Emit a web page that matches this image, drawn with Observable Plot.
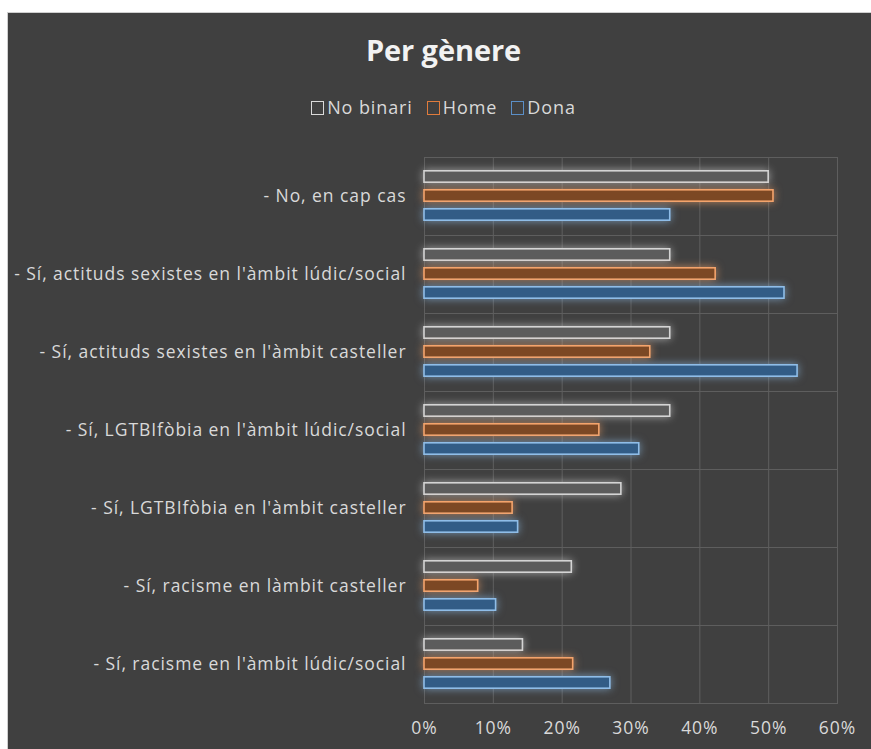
<!DOCTYPE html>
<html>
<head>
<meta charset="utf-8">
<script src="https://cdn.jsdelivr.net/npm/d3@7"></script>
<script src="https://cdn.jsdelivr.net/npm/@observablehq/plot@0.6"></script>
<style>
  html, body { margin: 0; padding: 0; background: #ffffff; }
  #card {
    position: absolute; left: 7px; top: 12px; width: 864px; height: 737px;
    background: #404040; border-left: 1px solid #cfcfcf; border-top: 1px solid #cfcfcf;
    box-sizing: border-box; font-family: "Open Sans", sans-serif; color: #d9d9d9;
  }
  #header { height: 128px; position: relative; }
  #title {
    position: absolute; top: 17px; width: 100%; text-align: center;
    font-size: 29px; font-weight: 700; color: #f2f2f2; letter-spacing: -0.1px; padding-left: 8px; box-sizing: border-box;
  }
  #legend {
    position: absolute; top: 82px; left: 0; width: 100%; text-align: center;
    font-size: 18px; color: #d9d9d9; letter-spacing: 0.9px; padding-left: 8px; box-sizing: border-box;
  }
  .item { display: inline-block; margin: 0 7px; }
  .sw { display: inline-block; width: 11px; height: 12px; border: 1px solid; margin-right: 3px; vertical-align: -1px; }
  #chart svg { display: block; }
</style>
</head>
<body>
<div id="card">
  <div id="header">
    <div id="title">Per gènere</div>
    <div id="legend"></div>
  </div>
  <div id="chart"></div>
</div>
<script>
const categories = [
  "- No, en cap cas",
  "- Sí, actituds sexistes en l'àmbit lúdic/social",
  "- Sí, actituds sexistes en l'àmbit casteller",
  "- Sí, LGTBIfòbia en l'àmbit lúdic/social",
  "- Sí, LGTBIfòbia en l'àmbit casteller",
  "- Sí, racisme en làmbit casteller",
  "- Sí, racisme en l'àmbit lúdic/social"
];
const series = ["No binari", "Home", "Dona"];
const noBinari = [50.0, 35.7, 35.7, 35.7, 28.6, 21.4, 14.3];
const home     = [50.7, 42.3, 32.8, 25.4, 12.8, 7.8, 21.6];
const dona     = [35.7, 52.3, 54.2, 31.2, 13.6, 10.4, 27.0];
const xTicks = [0, 0.1, 0.2, 0.3, 0.4, 0.5, 0.6];

const strokeColors = {"No binari": "#d4d4d4", "Home": "#f4a46c", "Dona": "#8fbde8"};
const fillColors   = {"No binari": "#5c5c5c", "Home": "#7c4824", "Dona": "#325c86"};
const legendBox    = {"No binari": "#d9d9d9", "Home": "#e07b3c", "Dona": "#5b8fc7"};

const valuesBySeries = {"No binari": noBinari, "Home": home, "Dona": dona};
const data = [];
categories.forEach((c, i) => {
  series.forEach(s => data.push({category: c, series: s, value: valuesBySeries[s][i] / 100}));
});

// legend
const legend = document.getElementById("legend");
series.forEach(s => {
  const it = document.createElement("span");
  it.className = "item";
  it.innerHTML = `<span class="sw" style="border-color:${legendBox[s]}"></span>${s}`;
  legend.appendChild(it);
});

const gridColor = "#5e5e5e";
const chart = Plot.plot({
  width: 863,
  height: 609,
  marginLeft: 416,
  marginRight: 34,
  marginTop: 16,
  marginBottom: 47,
  style: {background: "transparent", color: "#d9d9d9", fontSize: "17.5px", fontFamily: "Open Sans, sans-serif", letterSpacing: "0.95px"},
  x: {domain: [0, 0.6], ticks: xTicks, tickFormat: d3.format(".0%"), tickSize: 0, tickPadding: 18, label: null},
  y: {domain: series, axis: null, paddingInner: 0.3, paddingOuter: 0.6},
  fy: {domain: categories, axis: "left", label: null, tickSize: 0, tickPadding: 18, padding: 0},
  color: {type: "identity"},
  marks: [
    Plot.ruleX(xTicks, {x: d => d, stroke: gridColor, strokeWidth: 1}),
    Plot.frame({stroke: gridColor, strokeWidth: 1}),
    Plot.barX(data, {
      x: "value", y: "series", fy: "category",
      fill: d => fillColors[d.series],
      stroke: d => strokeColors[d.series],
      strokeWidth: 1.6,
      insetTop: 0.8, insetBottom: 0.8,
      className: "bars"
    })
  ]
});
chart.querySelectorAll("g.bars rect").forEach(r => {
  const s = r.getAttribute("stroke");
  if (s) r.style.filter = `drop-shadow(0 0 4px ${s}aa)`;
});
document.getElementById("chart").appendChild(chart);
</script>
</body>
</html>
